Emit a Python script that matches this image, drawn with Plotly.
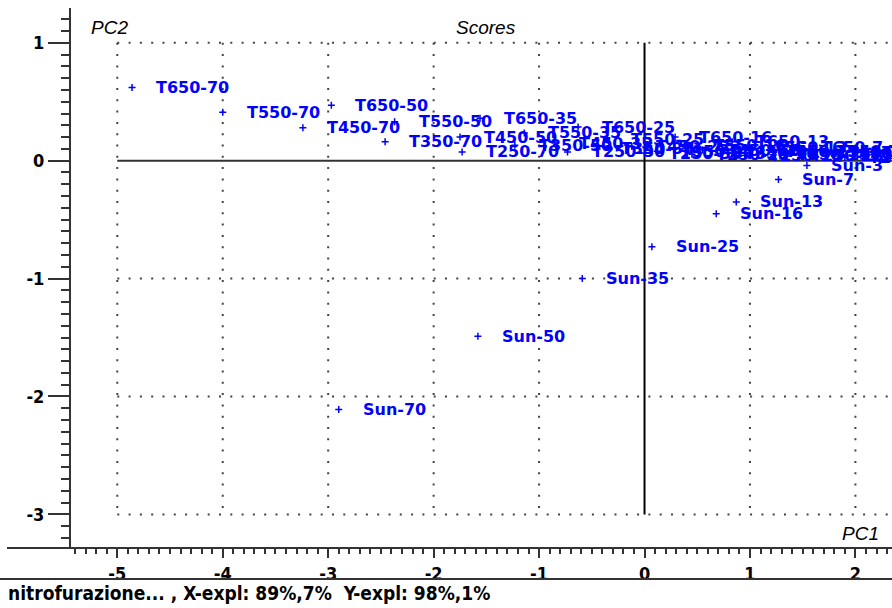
import plotly.graph_objects as go

# ---- Scores (PC1, PC2) ----
t_labels = [
    "T650-70", "T650-50", "T650-35", "T650-25", "T650-16", "T650-13", "T650-7", "T650-3",
    "T550-70", "T550-50", "T550-35", "T550-25", "T550-16", "T550-13", "T550-7", "T550-3",
    "T450-70", "T450-50", "T450-35", "T450-25", "T450-16", "T450-13", "T450-7", "T450-3",
    "T350-70", "T350-50", "T350-35", "T350-25", "T350-16", "T350-13", "T350-7", "T350-3",
    "T250-70", "T250-50", "T250-35", "T250-25", "T250-16", "T250-13", "T250-7", "T250-3",
]
t_pc1 = [
    -4.86, -2.97, -1.56, -0.63, 0.29, 0.83, 1.45, 2.02,
    -4.00, -2.37, -1.14, -0.36, 0.42, 1.00, 1.60, 2.16,
    -3.24, -1.75, -0.85, -0.12, 0.55, 1.10, 1.70, 2.24,
    -2.46, -1.23, -0.45, 0.12, 0.72, 1.22, 1.80, 2.30,
    -1.73, -0.73, 0.00, 0.45, 0.95, 1.35, 1.90, 2.33,
]
t_pc2 = [
    0.62, 0.47, 0.36, 0.285, 0.20, 0.16, 0.11, 0.07,
    0.41, 0.33, 0.235, 0.18, 0.13, 0.11, 0.08, 0.05,
    0.28, 0.20, 0.15, 0.12, 0.09, 0.08, 0.06, 0.04,
    0.16, 0.13, 0.10, 0.08, 0.06, 0.05, 0.04, 0.03,
    0.074, 0.074, 0.065, 0.055, 0.045, 0.04, 0.03, 0.02,
]

sun_labels = ["Sun-70", "Sun-50", "Sun-35", "Sun-25", "Sun-16", "Sun-13", "Sun-7", "Sun-3"]
sun_pc1 = [-2.90, -1.58, -0.59, 0.07, 0.68, 0.87, 1.27, 1.54]
sun_pc2 = [-2.11, -1.49, -1.00, -0.73, -0.45, -0.35, -0.16, -0.04]

x_ticks = [-5, -4, -3, -2, -1, 0, 1, 2]
y_ticks = [1, 0, -1, -2, -3]

footer = "nitrofurazione... , X-expl: 89%,7%  Y-expl: 98%,1%"

# ---- geometry ----
W, H = 892, 608
ML, MR, MT, MB = 71, 0, 8, 60
PW, PH = W - ML - MR, H - MT - MB
X_RANGE = [-5.439, 2.347]
Y_RANGE = [-3.285, 1.295]


def px(xp):
    return (xp - ML) / PW


def py(yp):
    return (H - MB - yp) / PH


labels = t_labels + sun_labels
pc1 = t_pc1 + sun_pc1
pc2 = t_pc2 + sun_pc2

BLUE = "#0000ff"
AX = "#333333"
LABEL_FONT = dict(family="DejaVu Sans", size=16, color=BLUE, weight="bold")
COND = "DejaVu Sans Condensed, Liberation Sans Narrow, Arial Narrow, Liberation Sans"
TICK_FONT = dict(family=COND, size=18, color="#000000", weight="bold")
FOOT_FONT = dict(family=COND, size=19, color="#000000", weight="bold")
TITLE_FONT = dict(family="Liberation Sans, Arial", size=19, color="#000000", style="italic")

fig = go.Figure()
fig.add_trace(go.Scatter(
    x=pc1, y=pc2, mode="markers",
    marker=dict(symbol="cross-thin", size=5, line=dict(width=1.5, color=BLUE), color=BLUE),
    hoverinfo="text", text=labels, showlegend=False,
))

annotations = []
for lab, xv, yv in zip(labels, pc1, pc2):
    annotations.append(dict(
        x=xv, y=yv, xref="x", yref="y", text=lab, showarrow=False,
        xanchor="left", yanchor="middle", xshift=22, font=LABEL_FONT,
    ))

shapes = []
dot = dict(color="#444444", width=2, dash="2px,9.3px")
# dotted grid
for yv in y_ticks:
    if yv == 0:
        continue
    shapes.append(dict(type="line", xref="x", yref="y", x0=x_ticks[0], x1=X_RANGE[1],
                       y0=yv, y1=yv, line=dot, layer="below"))
for xv in x_ticks:
    if xv == 0:
        continue
    shapes.append(dict(type="line", xref="x", yref="y", x0=xv, x1=xv,
                       y0=y_ticks[0], y1=y_ticks[-1], line=dot, layer="below"))
# zero axes
shapes.append(dict(type="line", xref="x", yref="y", x0=x_ticks[0], x1=X_RANGE[1], y0=0, y1=0,
                   line=dict(color=AX, width=2), layer="below"))
shapes.append(dict(type="line", xref="x", yref="y", x0=0, x1=0, y0=y_ticks[0], y1=y_ticks[-1],
                   line=dict(color="#000000", width=2), layer="below"))
# frame lines
shapes.append(dict(type="line", xref="paper", yref="paper", x0=px(7), x1=1, y0=0, y1=0,
                   line=dict(color=AX, width=2)))
shapes.append(dict(type="line", xref="paper", yref="paper", x0=px(0), x1=1, y0=py(579), y1=py(579),
                   line=dict(color=AX, width=2)))

annotations += [
    dict(xref="paper", yref="paper", x=px(89), y=py(27), text="PC2", showarrow=False,
         xanchor="left", yanchor="middle", font=TITLE_FONT),
    dict(xref="paper", yref="paper", x=px(454), y=py(27), text="Scores", showarrow=False,
         xanchor="left", yanchor="middle", font=TITLE_FONT),
    dict(xref="paper", yref="paper", x=px(840), y=py(533), text="PC1", showarrow=False,
         xanchor="left", yanchor="middle", font=TITLE_FONT),
    dict(xref="paper", yref="paper", x=px(6), y=py(593), text=footer, showarrow=False,
         xanchor="left", yanchor="middle", font=FOOT_FONT),
]

fig.update_layout(
    width=W, height=H,
    margin=dict(l=ML, r=MR, t=MT, b=MB, pad=0),
    paper_bgcolor="#ffffff", plot_bgcolor="#ffffff",
    xaxis=dict(
        range=X_RANGE, tickvals=x_ticks, ticktext=[str(v) for v in x_ticks],
        showgrid=False, zeroline=False, showline=False,
        ticks="outside", ticklen=9, tickwidth=2, tickcolor=AX, tickfont=TICK_FONT,
        minor=dict(dtick=0.1, tick0=0, ticks="outside", ticklen=5, tickwidth=1.5, tickcolor=AX,
                   showgrid=False),
        fixedrange=True,
    ),
    yaxis=dict(
        range=Y_RANGE, tickvals=y_ticks, ticktext=[str(v) for v in y_ticks],
        showgrid=False, zeroline=False, showline=True, linewidth=2, linecolor=AX,
        ticks="outside", ticklen=21, tickwidth=2, tickcolor=AX, tickfont=TICK_FONT,
        minor=dict(dtick=0.1, tick0=0, ticks="outside", ticklen=8, tickwidth=2, tickcolor=AX,
                   showgrid=False),
        fixedrange=True,
    ),
    shapes=shapes,
    annotations=annotations,
)

fig.write_html("out.html")
